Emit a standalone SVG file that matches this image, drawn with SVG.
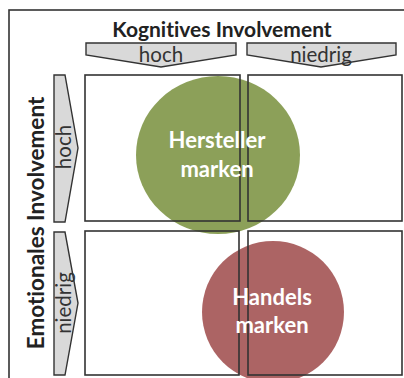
<svg xmlns="http://www.w3.org/2000/svg" width="404" height="378" viewBox="0 0 404 378">
<style>
text{font-variant-ligatures:none;font-feature-settings:"liga" 0}
.frame{fill:none;stroke:#333;stroke-width:1.6}
.quad{fill:none;stroke:#333;stroke-width:1.6}
.arrow{fill:#d9d9d9;stroke:#333;stroke-width:1.4;stroke-linejoin:miter}
.title{font-family:Lato,"Open Sans",sans-serif;font-weight:bold;font-size:21px;fill:#222}
.lbl{font-family:Lato,"Open Sans",sans-serif;font-size:20.5px;fill:#333}
.ctext{font-family:Lato,"Open Sans",sans-serif;font-weight:bold;font-size:22px;fill:#fff}
</style>
<rect width="404" height="378" fill="#fff"/>
<rect class="frame" x="9" y="10" width="430" height="400"/>
<text class="title" x="222" y="37" text-anchor="middle">Kognitives Involvement</text>
<text class="title" transform="translate(44,223) rotate(-90)" text-anchor="middle" style="font-size:22.5px">Emotionales Involvement</text>
<g id="arrow-top-hoch">
<polygon class="arrow" points="86,43 236,43 236,55 161,67 86,55"/>
<text class="lbl" x="161" y="62" text-anchor="middle">hoch</text>
</g>
<g id="arrow-top-niedrig">
<polygon class="arrow" points="247,43 396,43 396,55 321,67 247,55"/>
<text class="lbl" x="321" y="62" text-anchor="middle">niedrig</text>
</g>
<g id="arrow-left-hoch">
<polygon class="arrow" points="54,75 65,75 78,148 65,222 54,222"/>
<text class="lbl" transform="translate(71,147) rotate(-90)" text-anchor="middle">hoch</text>
</g>
<g id="arrow-left-niedrig">
<polygon class="arrow" points="54,232 65,232 78,303 65,375 54,375"/>
<text class="lbl" transform="translate(71,303) rotate(-90)" text-anchor="middle">niedrig</text>
</g>
<g id="circle-hersteller">
<ellipse cx="218" cy="155" rx="82" ry="79" fill="#7f9647" fill-opacity="0.9"/>
</g>
<g id="circle-handels">
<circle cx="273" cy="312" r="71" fill="#a04e4e" fill-opacity="0.88"/>
</g>
<g id="quadrants">
<rect class="quad" x="85" y="75" width="155" height="146"/>
<rect class="quad" x="248" y="75" width="154" height="146"/>
<rect class="quad" x="85" y="231" width="154" height="144"/>
<rect class="quad" x="248" y="231" width="154" height="144"/>
</g>
<text class="ctext" x="217" y="148" text-anchor="middle">Hersteller</text>
<text class="ctext" x="217" y="177" text-anchor="middle">marken</text>
<text class="ctext" x="272" y="305" text-anchor="middle">Handels</text>
<text class="ctext" x="272" y="333" text-anchor="middle">marken</text>
</svg>
